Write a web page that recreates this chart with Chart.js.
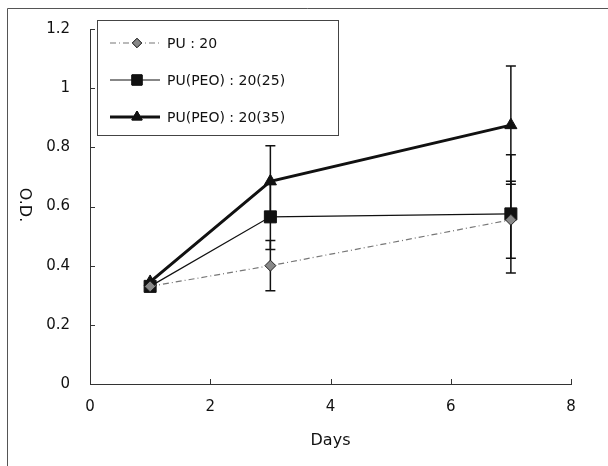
<!DOCTYPE html>
<html>
<head>
<meta charset="utf-8">
<script src="https://cdn.jsdelivr.net/npm/chart.js@4/dist/chart.umd.min.js"></script>
<style>
  html, body { margin: 0; padding: 0; background: #fff; }
  #wrap { width: 608px; height: 466px; }
</style>
</head>
<body>
<div id="wrap"><canvas id="chart"></canvas></div>
<script>
const days = [1, 3, 7];
const puValues = [0.33, 0.40, 0.555];
const pu25Values = [0.33, 0.565, 0.575];
const pu35Values = [0.345, 0.685, 0.875];
const puErr = [0, 0.085, 0.13];
const pu25Err = [0, 0.11, 0.2];
const pu35Err = [0, 0.12, 0.2];
const seriesLabels = ['PU : 20', 'PU(PEO) : 20(25)', 'PU(PEO) : 20(35)'];
const xTicks = [0, 2, 4, 6, 8];
const yTicks = [0, 0.2, 0.4, 0.6, 0.8, 1, 1.2];
const xTitle = 'Days';
const yTitle = 'O.D.';

const font = 'DejaVu Sans';

function toPoints(values) {
    return values.map((v, i) => ({ x: days[i], y: v }));
}

const seriesErr = [puErr, pu25Err, pu35Err];

// outer frame (left + top only, like the scan)
const framePlugin = {
    id: 'frame',
    beforeDraw(chart) {
        const ctx = chart.ctx;
        ctx.save();
        ctx.strokeStyle = '#555';
        ctx.lineWidth = 1;
        ctx.beginPath();
        ctx.moveTo(7.5, 466);
        ctx.lineTo(7.5, 8.5);
        ctx.lineTo(608, 8.5);
        ctx.stroke();
        ctx.restore();
    }
};

const errorBarPlugin = {
    id: 'errorBars',
    beforeDatasetsDraw(chart) {
        const ctx = chart.ctx;
        const xs = chart.scales.x;
        const ys = chart.scales.y;
        ctx.save();
        ctx.strokeStyle = '#111';
        ctx.lineWidth = 1.5;
        chart.data.datasets.forEach((ds, di) => {
            const err = seriesErr[di];
            ds.data.forEach((p, i) => {
                if (!err[i]) return;
                const px = xs.getPixelForValue(p.x);
                const top = ys.getPixelForValue(p.y + err[i]);
                const bot = ys.getPixelForValue(p.y - err[i]);
                ctx.beginPath();
                ctx.moveTo(px, top);
                ctx.lineTo(px, bot);
                ctx.moveTo(px - 5, top);
                ctx.lineTo(px + 5, top);
                ctx.moveTo(px - 5, bot);
                ctx.lineTo(px + 5, bot);
                ctx.stroke();
            });
        });
        ctx.restore();
    }
};

const decorPlugin = {
    id: 'decor',
    afterDraw(chart) {
        const ctx = chart.ctx;
        const xs = chart.scales.x;
        const ys = chart.scales.y;
        const area = chart.chartArea;
        ctx.save();

        // inward tick marks
        ctx.strokeStyle = '#333';
        ctx.lineWidth = 1;
        ctx.beginPath();
        xTicks.forEach(t => {
            const px = Math.round(xs.getPixelForValue(t)) + 0.5;
            ctx.moveTo(px, area.bottom);
            ctx.lineTo(px, area.bottom - 5);
        });
        yTicks.forEach(t => {
            const py = Math.round(ys.getPixelForValue(t)) + 0.5;
            ctx.moveTo(area.left, py);
            ctx.lineTo(area.left + 5, py);
        });
        ctx.stroke();

        // y title, rotated clockwise
        ctx.fillStyle = '#111';
        ctx.font = '16px "' + font + '"';
        ctx.textAlign = 'center';
        ctx.textBaseline = 'middle';
        ctx.translate(24, 205);
        ctx.rotate(Math.PI / 2);
        ctx.fillText(yTitle, 0, 0);
        ctx.setTransform(1, 0, 0, 1, 0, 0);

        // legend box inside plot
        const bx = 97, by = 20, bw = 241, bh = 115;
        ctx.fillStyle = '#fff';
        ctx.fillRect(bx, by, bw, bh);
        ctx.strokeStyle = '#444';
        ctx.strokeRect(bx + 0.5, by + 0.5, bw, bh);

        const rows = [43, 80, 117];
        chart.data.datasets.forEach((ds, i) => {
            const y = rows[i];
            ctx.save();
            ctx.strokeStyle = ds.borderColor;
            ctx.lineWidth = ds.borderWidth;
            ctx.setLineDash(ds.borderDash || []);
            ctx.beginPath();
            ctx.moveTo(110, y);
            ctx.lineTo(160, y);
            ctx.stroke();
            ctx.restore();
            Chart.helpers.drawPoint(ctx, {
                pointStyle: ds.pointStyle,
                radius: ds.pointRadius * 0.85,
                borderWidth: 1,
                rotation: 0
            }, 137, y);
            ctx.fillStyle = ds.pointBackgroundColor;
            ctx.strokeStyle = ds.pointBorderColor;
            ctx.fill();
            ctx.stroke();
            ctx.fillStyle = '#111';
            ctx.font = '14px "' + font + '"';
            ctx.textAlign = 'left';
            ctx.textBaseline = 'middle';
            ctx.fillText(ds.label, 167, y + 1);
        });
        ctx.restore();
    }
};

const ctx = document.getElementById('chart').getContext('2d');
new Chart(ctx, {
    type: 'line',
    data: {
        datasets: [
            {
                label: seriesLabels[0],
                data: toPoints(puValues),
                borderColor: '#777',
                borderWidth: 1.2,
                borderDash: [6, 3, 1, 3],
                pointStyle: 'rectRot',
                pointRadius: 5.5,
                pointBackgroundColor: '#888',
                pointBorderColor: '#222',
                pointBorderWidth: 1
            },
            {
                label: seriesLabels[1],
                data: toPoints(pu25Values),
                borderColor: '#111',
                borderWidth: 1.2,
                pointStyle: 'rect',
                pointRadius: 8.5,
                pointBackgroundColor: '#111',
                pointBorderColor: '#111',
                pointBorderWidth: 1
            },
            {
                label: seriesLabels[2],
                data: toPoints(pu35Values),
                borderColor: '#111',
                borderWidth: 3,
                pointStyle: 'triangle',
                pointRadius: 7,
                pointBackgroundColor: '#111',
                pointBorderColor: '#111',
                pointBorderWidth: 1
            }
        ]
    },
    options: {
        responsive: true,
        maintainAspectRatio: false,
        animation: false,
        clip: false,
        layout: { padding: { top: 25, right: 37, left: 0, bottom: 0 } },
        plugins: {
            legend: { display: false },
            tooltip: { enabled: false }
        },
        scales: {
            x: {
                type: 'linear',
                min: 0,
                max: 8,
                afterBuildTicks: scale => { scale.ticks = xTicks.map(v => ({ value: v })); },
                afterFit: scale => { scale.height = 82; },
                grid: { drawOnChartArea: false, drawTicks: false },
                border: { display: true, color: '#333', width: 1 },
                ticks: { color: '#111', padding: 14, font: { family: font, size: 15 } },
                title: {
                    display: true,
                    text: xTitle,
                    color: '#111',
                    padding: { top: 0, bottom: 16 },
                    font: { family: font, size: 16 }
                }
            },
            y: {
                min: 0,
                max: 1.2,
                afterBuildTicks: scale => { scale.ticks = yTicks.map(v => ({ value: v })); },
                afterFit: scale => { scale.width = 90; },
                grid: { drawOnChartArea: false, drawTicks: false },
                border: { display: true, color: '#333', width: 1 },
                ticks: {
                    color: '#111',
                    padding: 20,
                    font: { family: font, size: 15 },
                    callback: v => String(+v.toFixed(1))
                }
            }
        }
    },
    plugins: [framePlugin, errorBarPlugin, decorPlugin]
});
</script>
</body>
</html>
